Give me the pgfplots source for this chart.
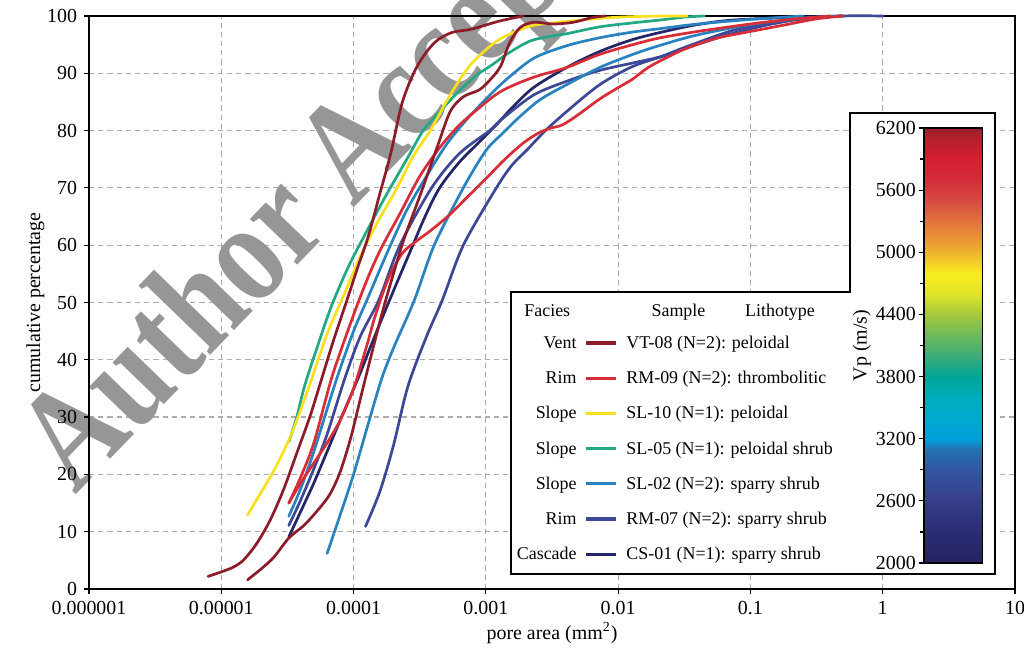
\documentclass[border=0pt]{standalone}
\usepackage{fontspec}
\setmainfont{Liberation Serif}
\newfontfamily\wmfont[FakeStretch=0.83]{Liberation Serif}
\usepackage{pgfplots}
\pgfplotsset{compat=1.18}

% series colours
\definecolor{vtcol}{RGB}{140,28,42}
\definecolor{rmnine}{RGB}{215,45,55}
\definecolor{slten}{RGB}{250,224,30}
\definecolor{slfive}{RGB}{34,168,132}
\definecolor{sltwo}{RGB}{40,130,192}
\definecolor{rmseven}{RGB}{60,72,150}
\definecolor{csone}{RGB}{36,36,104}
\definecolor{wmgray}{RGB}{150,150,150}
\definecolor{gridgray}{RGB}{172,172,172}

% Vp colour scale (positions: (Vp-2000)/100)
\pgfplotsset{
  colormap={vp}{[1pt]
    rgb255(0pt)=(38,35,100);
    rgb255(3pt)=(42,45,115);
    rgb255(6pt)=(55,62,138);
    rgb255(9pt)=(50,85,160);
    rgb255(11pt)=(35,115,180);
    rgb255(12pt)=(0,160,220);
    rgb255(14pt)=(0,170,205);
    rgb255(16pt)=(0,172,190);
    rgb255(18pt)=(0,165,150);
    rgb255(20pt)=(60,172,120);
    rgb255(22pt)=(110,186,90);
    rgb255(24pt)=(165,200,60);
    rgb255(26pt)=(225,228,40);
    rgb255(28pt)=(250,236,30);
    rgb255(29pt)=(242,205,40);
    rgb255(31pt)=(235,155,50);
    rgb255(33pt)=(225,115,60);
    rgb255(35pt)=(215,75,65);
    rgb255(37pt)=(210,45,58);
    rgb255(39pt)=(215,30,50);
    rgb255(41pt)=(180,32,45);
    rgb255(42pt)=(150,32,42)
  }
}

\newcommand{\tickfont}{\fontsize{10}{12}\selectfont}
\newcommand{\legfont}{\fontsize{9}{11}\selectfont}

\begin{document}
\begin{tikzpicture}

\begin{axis}[
  at={(0,0)}, anchor=south west,
  set layers, clip=false,
  width=463bp, height=286.5bp, scale only axis,
  xmode=log, xmin=1e-6, xmax=10, ymin=0, ymax=100,
  xtick={1e-6,1e-5,1e-4,1e-3,1e-2,1e-1,1,10},
  xticklabels={0.000001,0.00001,0.0001,0.001,0.01,0.1,1,10},
  ytick={0,10,...,100},
  xminorticks=false, yminorticks=false,
  tick pos=left, tick align=outside,
  major tick length=2.5bp,
  every tick/.style={black, line width=0.6bp},
  axis line style={line width=1bp, black},
  grid=major,
  major grid style={draw=gridgray, dash pattern=on 2.6bp off 2bp, line width=0.6bp},
  tick label style={font=\tickfont, text=black},
  /pgf/number format/assume math mode=true,
  xlabel={pore area (mm\textsuperscript{2})},
  ylabel={cumulative percentage},
  label style={font=\tickfont},
  xlabel style={at={(axis description cs:0.5,-0.0768)}, anchor=center},
  ylabel style={at={(axis description cs:-0.058,0.5)}, anchor=center},
  every axis plot/.append style={smooth, tension=0.5, line width=1.35bp, line cap=round, line join=round},
]

\begin{pgfonlayer}{axis grid}
\node[rotate=46, anchor=base west, inner sep=0pt,
      text=wmgray, font=\fontsize{72}{72}\wmfont\bfseries]
  at (axis description cs:-0.015,0.162) {Author Accepted Manuscript};
\end{pgfonlayer}

% CS-01 (N=1)
\addplot[csone] coordinates {
(3.24e-5,9.1)(3.98e-5,13.5)(5.01e-5,18.5)(6.31e-5,24)(7.94e-5,29.5)(1.07e-4,36.5)
(1.41e-4,43.5)(2.00e-4,52)(2.69e-4,59)(3.47e-4,65)(4.47e-4,70)(6.31e-4,74.5)
(8.91e-4,78)(1.20e-3,81)(1.58e-3,84)(2.29e-3,87.5)(4.07e-3,91)(7.24e-3,93.8)
(1.29e-2,95.9)(2.34e-2,97.4)(3.98e-2,98.5)(7.41e-2,99.3)(0.234,99.8)(0.501,100)};

% RM-07 (N=2)
\addplot[rmseven] coordinates {
(3.24e-5,11.1)(3.98e-5,15.5)(5.01e-5,21)(6.31e-5,27)(8.51e-5,36.5)(1.12e-4,44)
(1.55e-4,50.4)(2.24e-4,60)(3.89e-4,70)(6.31e-4,76)(1.07e-3,80)(1.29e-3,81.8)
(2.29e-3,86.2)(4.07e-3,88.6)(7.24e-3,90.5)(1.29e-2,91.8)(2.09e-2,92.9)(3.16e-2,94.5)
(7.41e-2,97.5)(0.158,99)(0.316,99.8)(0.501,100)};
\addplot[rmseven] coordinates {
(1.23e-4,10.9)(1.58e-4,17)(2.00e-4,25)(2.57e-4,35.3)(3.55e-4,44)(4.68e-4,50.4)
(6.76e-4,60)(1.20e-3,70)(1.58e-3,74)(2.04e-3,76.6)(2.82e-3,80)(4.07e-3,83.3)
(7.24e-3,88)(1.29e-2,91.2)(2.34e-2,93.2)(4.17e-2,95.2)(7.41e-2,97)(0.132,98.4)
(0.234,99.4)(0.501,100)(1,100)};

% SL-02 (N=2)
\addplot[sltwo] coordinates {
(3.24e-5,12.7)(3.98e-5,17.5)(5.01e-5,24)(7.41e-5,36.5)(1.00e-4,45)(1.26e-4,50.4)
(1.78e-4,58.5)(2.51e-4,66)(3.55e-4,72)(5.01e-4,77.5)(7.08e-4,81.8)(1.00e-3,85.5)
(1.41e-3,88.8)(2.29e-3,92.6)(4.07e-3,94.8)(7.24e-3,96.2)(1.29e-2,97.2)(2.09e-2,97.8)
(3.98e-2,98.6)(0.1,99.4)(0.251,100)};
\addplot[sltwo] coordinates {
(6.31e-5,6.2)(7.94e-5,13)(1.00e-4,20)(1.26e-4,28)(1.62e-4,36.5)(2.00e-4,42)
(2.88e-4,50.4)(4.07e-4,60)(6.76e-4,70)(1.00e-3,76.5)(1.35e-3,79.6)(1.78e-3,82.3)
(2.57e-3,85.4)(4.07e-3,88)(7.24e-3,91)(1.29e-2,93.3)(2.09e-2,94.9)(3.98e-2,96.7)
(0.1,98.5)(0.251,99.6)(0.501,100)};

% RM-09 (N=2)
\addplot[rmnine] coordinates {
(3.24e-5,15)(3.98e-5,19.5)(5.01e-5,25.5)(6.76e-5,36.5)(8.71e-5,44)(1.10e-4,50.4)
(1.32e-4,55)(1.62e-4,59.5)(2.24e-4,65.5)(3.16e-4,72)(4.47e-4,77)(6.03e-4,80.5)
(7.94e-4,83)(1.29e-3,86.8)(2.29e-3,89.3)(4.07e-3,91.0)(7.24e-3,93.3)(1.29e-2,95.0)
(2.09e-2,96.2)(3.98e-2,97.3)(0.1,98.6)(0.2,99.4)(0.398,100)};
\addplot[rmnine] coordinates {
(3.24e-5,15)(3.98e-5,18.5)(5.01e-5,22)(6.31e-5,25.5)(7.94e-5,29.5)(1.00e-4,35)
(1.26e-4,42.5)(1.45e-4,47.5)(1.82e-4,54)(2.34e-4,58.6)(3.02e-4,60.8)(3.80e-4,62.5)
(5.25e-4,65.2)(7.24e-4,68.4)(1.00e-3,71.6)(1.38e-3,74.9)(1.91e-3,77.8)(2.51e-3,79.6)
(3.16e-3,80.5)(3.80e-3,81)(5.01e-3,82.8)(7.24e-3,85.5)(1.00e-2,87.5)(1.29e-2,89)
(1.74e-2,91.2)(3.09e-2,94.1)(5.50e-2,96.1)(0.1,97.3)(0.178,98.4)(0.316,99.5)(0.501,100)};

% SL-05 (N=1)
\addplot[slfive] coordinates {
(3.24e-5,25.7)(3.72e-5,30)(4.27e-5,35.5)(5.31e-5,42.2)(6.76e-5,49.2)(9.12e-5,56.2)
(1.23e-4,62)(1.74e-4,68.5)(2.51e-4,74.9)(3.31e-4,79.8)(3.98e-4,82)(5.75e-4,86)
(8.32e-4,89.5)(1.12e-3,91.5)(1.41e-3,93.2)(2.14e-3,95.6)(3.16e-3,96.5)(4.07e-3,96.9)
(7.24e-3,98.1)(1.29e-2,98.8)(2.09e-2,99.3)(3.16e-2,99.8)(4.47e-2,100)};

% SL-10 (N=1)
\addplot[slten] coordinates {
(1.58e-5,12.9)(1.82e-5,15.3)(2.57e-5,21.2)(3.47e-5,27.6)(4.68e-5,35.8)(6.31e-5,44.5)
(8.51e-5,51.5)(1.15e-4,58.5)(1.55e-4,64.4)(2.09e-4,69.6)(2.82e-4,75.5)(3.80e-4,80)
(5.01e-4,85)(6.61e-4,89.5)(8.32e-4,92.4)(1.26e-3,95.9)(2.14e-3,98.2)(3.24e-3,98.8)
(5.75e-3,99.4)(1.02e-2,99.8)(2.00e-2,100)(3.31e-2,100)};

% VT-08 (N=2)
\addplot[vtcol] coordinates {
(7.94e-6,2.2)(9.77e-6,2.9)(1.23e-5,3.8)(1.48e-5,5.1)(1.86e-5,8.0)(2.34e-5,12.0)
(2.95e-5,17.3)(3.72e-5,23.7)(4.68e-5,30.1)(5.62e-5,36)(7.08e-5,43.5)(8.91e-5,50.4)
(1.07e-4,56)(1.29e-4,61.5)(1.58e-4,69)(1.91e-4,76)(2.34e-4,85)(3.02e-4,91.2)
(4.07e-4,95.3)(5.50e-4,97.1)(7.76e-4,97.7)(1.26e-3,99.1)(1.91e-3,100)};
\addplot[vtcol] coordinates {
(1.58e-5,1.6)(2.00e-5,3.5)(2.51e-5,5.6)(3.24e-5,8.9)(4.17e-5,11)(5.25e-5,13.5)
(6.61e-5,16.5)(7.94e-5,20.5)(9.55e-5,26.5)(1.12e-4,33)(1.35e-4,40.5)(1.66e-4,48.5)
(2.00e-4,55)(2.40e-4,61)(3.16e-4,68.5)(4.27e-4,77)(5.37e-4,83.3)(6.76e-4,85.9)
(8.91e-4,87.1)(1.07e-3,88.8)(1.29e-3,91.2)(1.51e-3,95.3)(1.82e-3,98)(2.29e-3,98.9)
(3.24e-3,98.6)(4.57e-3,98.9)(6.31e-3,99.7)(7.94e-3,100)};
\end{axis}

% key panel and colour-scale panel
\filldraw[fill=white, draw=black, line width=0.8bp]
  (211bp,148.5bp) -- (380.5bp,148.5bp) -- (380.5bp,238bp) -- (453bp,238bp)
  -- (453bp,7.5bp) -- (211bp,7.5bp) -- cycle;

\begin{scope}[every node/.style={inner sep=0pt, font=\legfont}]
  \node[anchor=mid west] at (217.5bp,138.5bp) {Facies};
  \node[anchor=mid] at (294.75bp,138.5bp) {Sample};
  \node[anchor=mid] at (345.5bp,138.5bp) {Lithotype};
  \foreach \fac/\smp/\col [count=\i from 0] in {
      Vent/{VT-08 (N=2): peloidal}/vtcol,
      Rim/{RM-09 (N=2): thrombolitic}/rmnine,
      Slope/{SL-10 (N=1): peloidal}/slten,
      Slope/{SL-05 (N=1): peloidal shrub}/slfive,
      Slope/{SL-02 (N=2): sparry shrub}/sltwo,
      Rim/{RM-07 (N=2): sparry shrub}/rmseven,
      Cascade/{CS-01 (N=1): sparry shrub}/csone}{
    \pgfmathsetmacro{\yy}{122.5-17.6*\i}
    \node[anchor=mid east] at (244bp,\yy bp) {\fac};
    \draw[\col, line width=1.6bp] (248.5bp,\yy bp+0.5bp) -- (263.5bp,\yy bp+0.5bp);
    \node[anchor=mid west] at (268.5bp,\yy bp) {\smp};
  }
\end{scope}

% colour scale
\begin{axis}[
  at={(0,0)}, anchor=south west,
  width=463bp, height=286.5bp, scale only axis,
  xmin=0, xmax=1, ymin=0, ymax=1,
  hide axis,
  colormap name=vp,
  point meta min=2000, point meta max=6200,
  colorbar,
  colorbar/width=29.3bp,
  colorbar style={
    at={(417.5bp,13bp)}, anchor=south west,
    xshift=-0.3cm,
    width=29.3bp, height=217.5bp, scale only axis,
    ytick={2000,2600,...,6200},
    minor ytick={2300,2900,...,5900},
    yticklabel pos=left, ytick pos=left,
    tick align=outside,
    major tick length=2.7bp, minor tick length=2.2bp,
    every tick/.style={black, line width=0.6bp},
    axis line style={line width=0.7bp, black},
    yticklabel style={font=\tickfont, text=black, inner sep=1.2bp,
      /pgf/number format/assume math mode=true,
      /pgf/number format/set thousands separator={}},
    ylabel={Vp (m/s)},
    ylabel style={font=\tickfont, at={(axis description cs:-1.06,0.5)}, anchor=center, rotate=0},
  },
]
\addplot[draw=none] coordinates {(0,0) (1,1)};
\end{axis}

\pgfresetboundingbox
\useasboundingbox (-44.5bp,-30.5bp) rectangle (467.5bp,294.5bp);
\end{tikzpicture}
\end{document}
